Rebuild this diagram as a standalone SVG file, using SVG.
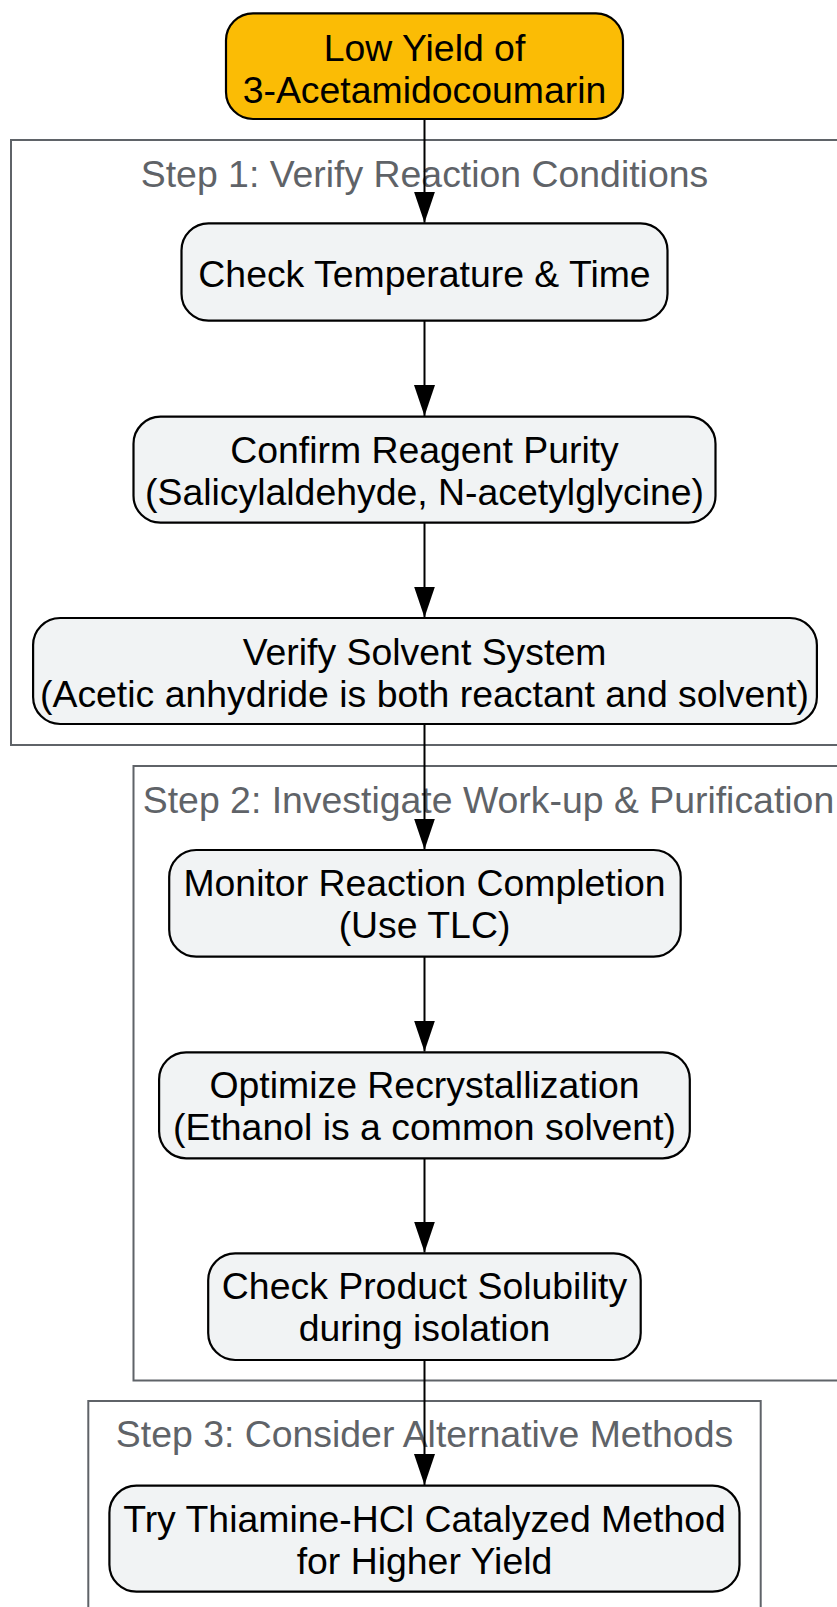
<svg xmlns="http://www.w3.org/2000/svg" width="837" height="1607" viewBox="0 0 837 1607">
<style>
.cl{fill:#ffffff;stroke:#5f6368;stroke-width:2}
.cll{font-family:"Liberation Sans",Arial,sans-serif;font-size:37.4px;fill:#5f6368;text-anchor:middle}
.n{fill:#f1f3f4;stroke:#000;stroke-width:2.2}
.top{fill:#fbbc05;stroke:#000;stroke-width:2.2}
.t{font-family:"Liberation Sans",Arial,sans-serif;font-size:37.4px;fill:#000;text-anchor:middle}
.e{stroke:#000;stroke-width:2;fill:none;marker-end:url(#ah)}
</style>
<defs>
<marker id="ah" markerUnits="userSpaceOnUse" markerWidth="31" markerHeight="21" refX="31" refY="10.5" orient="auto">
<path d="M0,0 L31,10.5 L0,21 z" fill="#000"/>
</marker>
</defs>
<rect width="837" height="1607" fill="#ffffff"/>
<g id="cluster1">
<rect class="cl" x="11" y="140" width="827" height="605"/>
<text class="cll" x="424.5" y="186.5">Step 1: Verify Reaction Conditions</text>
</g>
<g id="cluster2">
<rect class="cl" x="133.5" y="766" width="710" height="614.5"/>
<text class="cll" x="488.5" y="812.5">Step 2: Investigate Work-up &amp; Purification</text>
</g>
<g id="cluster3">
<rect class="cl" x="88.3" y="1401" width="672.4" height="220"/>
<text class="cll" x="424.5" y="1446.5">Step 3: Consider Alternative Methods</text>
</g>
<g id="connectors">
<line class="e" x1="424.5" y1="119" x2="424.5" y2="222.7"/>
<line class="e" x1="424.5" y1="320.7" x2="424.5" y2="416"/>
<line class="e" x1="424.5" y1="522.7" x2="424.5" y2="617.5"/>
<line class="e" x1="424.5" y1="724" x2="424.5" y2="849.5"/>
<line class="e" x1="424.5" y1="956.7" x2="424.5" y2="1051.5"/>
<line class="e" x1="424.5" y1="1158.3" x2="424.5" y2="1252.5"/>
<line class="e" x1="424.5" y1="1360" x2="424.5" y2="1485"/>
</g>
<g id="n_top">
<rect class="top" x="226" y="13.3" width="397" height="105.7" rx="27" ry="27"/>
<text class="t" x="424.5" y="61">Low Yield of</text>
<text class="t" x="424.5" y="102.7">3-Acetamidocoumarin</text>
</g>
<g id="n_temp">
<rect class="n" x="181.5" y="223.3" width="486" height="97.4" rx="27" ry="27"/>
<text class="t" x="424.5" y="286.5">Check Temperature &amp; Time</text>
</g>
<g id="n_purity">
<rect class="n" x="133.5" y="416.7" width="582" height="106" rx="27" ry="27"/>
<text class="t" x="424.5" y="463.3">Confirm Reagent Purity</text>
<text class="t" x="424.5" y="505">(Salicylaldehyde, N-acetylglycine)</text>
</g>
<g id="n_solvent">
<rect class="n" x="33.1" y="618" width="783.8" height="106" rx="27" ry="27"/>
<text class="t" x="424.5" y="665">Verify Solvent System</text>
<text class="t" x="424.5" y="706.5">(Acetic anhydride is both reactant and solvent)</text>
</g>
<g id="n_monitor">
<rect class="n" x="169.2" y="850" width="511.5" height="106.7" rx="27" ry="27"/>
<text class="t" x="424.5" y="896">Monitor Reaction Completion</text>
<text class="t" x="424.5" y="937.5">(Use TLC)</text>
</g>
<g id="n_recryst">
<rect class="n" x="159.1" y="1052.3" width="530.7" height="106" rx="27" ry="27"/>
<text class="t" x="424.5" y="1098.3">Optimize Recrystallization</text>
<text class="t" x="424.5" y="1140">(Ethanol is a common solvent)</text>
</g>
<g id="n_solubility">
<rect class="n" x="208.2" y="1253.3" width="432.5" height="106.7" rx="27" ry="27"/>
<text class="t" x="424.5" y="1299.3">Check Product Solubility</text>
<text class="t" x="424.5" y="1341.3">during isolation</text>
</g>
<g id="n_thiamine">
<rect class="n" x="109.4" y="1485.7" width="630.1" height="106" rx="27" ry="27"/>
<text class="t" x="424.5" y="1532.3">Try Thiamine-HCl Catalyzed Method</text>
<text class="t" x="424.5" y="1574.3">for Higher Yield</text>
</g>
</svg>
